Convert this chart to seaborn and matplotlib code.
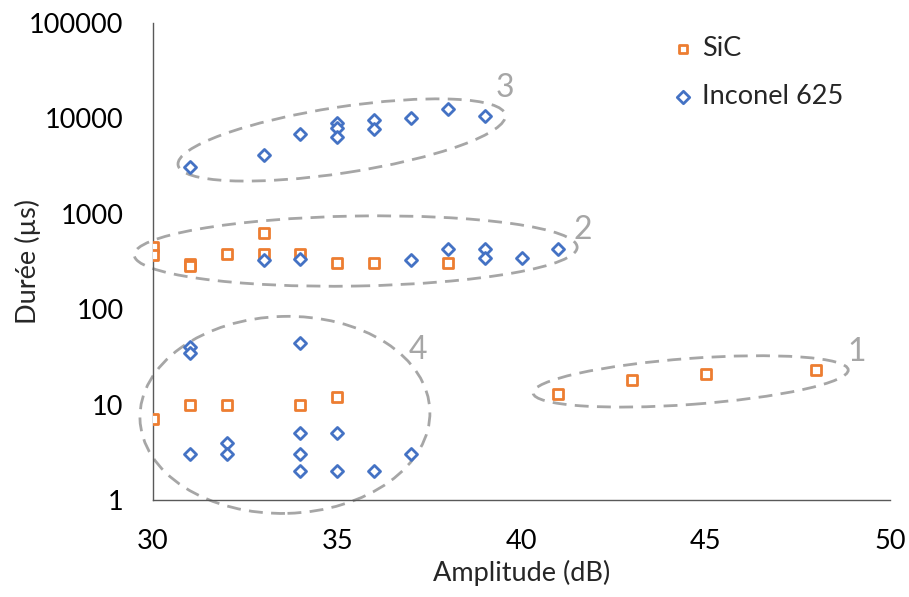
import numpy as np
import pandas as pd
import matplotlib
matplotlib.use('Agg')
import matplotlib.pyplot as plt
import matplotlib.transforms as mtransforms
from matplotlib.patches import Ellipse
import seaborn as sns

# SiC points (amplitude dB, duration us)
sic_amp = [30, 30, 31, 31, 32, 33, 33, 34, 35, 36, 38,
           41, 43, 45, 48,
           30, 31, 32, 34, 35]
sic_dur = [450, 370, 298, 287, 380, 625, 380, 380, 305, 305, 305,
           13, 18, 21, 23,
           7, 10, 10, 10, 12]

# Inconel 625 points
inc_amp = [31, 33, 34, 35, 35, 35, 36, 36, 37, 38, 39,
           33, 34, 37, 38, 39, 39, 40, 41,
           31, 31, 34, 34, 35, 32, 31, 32, 34, 37, 34, 35, 36]
inc_dur = [3070, 4100, 6800, 9000, 8000, 6400, 9600, 7800, 10000, 12500, 10600,
           330, 335, 330, 430, 430, 340, 340, 430,
           40, 35, 44, 5, 5, 4, 3, 3, 3, 3, 2, 2, 2]

# cluster ellipses: label, centre (dB, us), width/height in px, angle
clusters = ['1', '2', '3', '4']
ell_cx = [44.59, 35.5, 35.12, 33.58]
ell_cy = [17.5, 407, 5940, 7.8]
ell_w = [316, 443, 331, 290]
ell_h = [46, 70, 66, 197]
ell_ang = [4.2, 1.0, 8.7, 1.5]
lab_x = [49.1, 41.67, 39.55, 37.2]
lab_y = [35.6, 676, 20800, 37.3]

sic = pd.DataFrame({'amp': sic_amp, 'dur': sic_dur})
inc = pd.DataFrame({'amp': inc_amp, 'dur': inc_dur})

orange = '#ED7D31'
blue = '#4472C4'
grey = '#A6A6A6'
axcol = '#595959'

sns.set_style('white')
plt.rcParams['font.family'] = ['Lato', 'DejaVu Sans']

fig = plt.figure(figsize=(9.09, 5.97), dpi=100)
ax = fig.add_axes([153 / 909, 97 / 597, 737 / 909, 477 / 597])

sns.scatterplot(data=sic, x='amp', y='dur', ax=ax, marker='s', s=55,
                color=orange, facecolor='white', edgecolor=orange,
                linewidth=2.0, label='SiC', zorder=3)
sns.scatterplot(data=inc, x='amp', y='dur', ax=ax, marker='D', s=38,
                color=blue, facecolor='white', edgecolor=blue,
                linewidth=2.0, label='Inconel 625', zorder=3)

ax.set_yscale('log')
ax.set_xlim(30, 50)
ax.set_ylim(1, 100000)
ax.set_xticks([30, 35, 40, 45, 50])
yt = [1, 10, 100, 1000, 10000, 100000]
ax.set_yticks(yt)
ax.set_yticklabels([str(v) for v in yt])
ax.minorticks_off()

for sp in ['top', 'right']:
    ax.spines[sp].set_visible(False)
for sp in ['left', 'bottom']:
    ax.spines[sp].set_color(axcol)
    ax.spines[sp].set_linewidth(1.0)
ax.tick_params(axis='both', direction='out', length=7.2, width=1.0,
               color=axcol, labelsize=19.5, labelcolor='black', pad=14)

ax.set_xlabel('Amplitude (dB)', fontsize=19.5)
ax.set_ylabel('Durée (µs)', fontsize=19.5)
ax.xaxis.set_label_coords(0.5, -0.125)
ax.yaxis.set_label_coords(-0.152, 0.5)

# dashed ellipses around the clusters
for i in range(len(clusters)):
    tr = fig.dpi_scale_trans + mtransforms.ScaledTranslation(ell_cx[i], ell_cy[i], ax.transData)
    e = Ellipse((0, 0), ell_w[i] / 100, ell_h[i] / 100, angle=ell_ang[i],
                transform=tr, fill=False, edgecolor=grey, linewidth=2.0,
                linestyle=(0, (5, 3)), clip_on=False, zorder=2)
    ax.add_patch(e)
    ax.text(lab_x[i], lab_y[i], clusters[i], color=grey, fontsize=23,
            ha='center', va='center')

leg = ax.legend(loc='upper left', bbox_to_anchor=(0.69, 0.995), frameon=False,
                fontsize=19.5, handlelength=0.8, handletextpad=0.3,
                labelspacing=0.85, borderaxespad=0)
for h in leg.legend_handles:
    h.set_sizes([40])

fig.savefig('out.png', dpi=100, facecolor='white')
